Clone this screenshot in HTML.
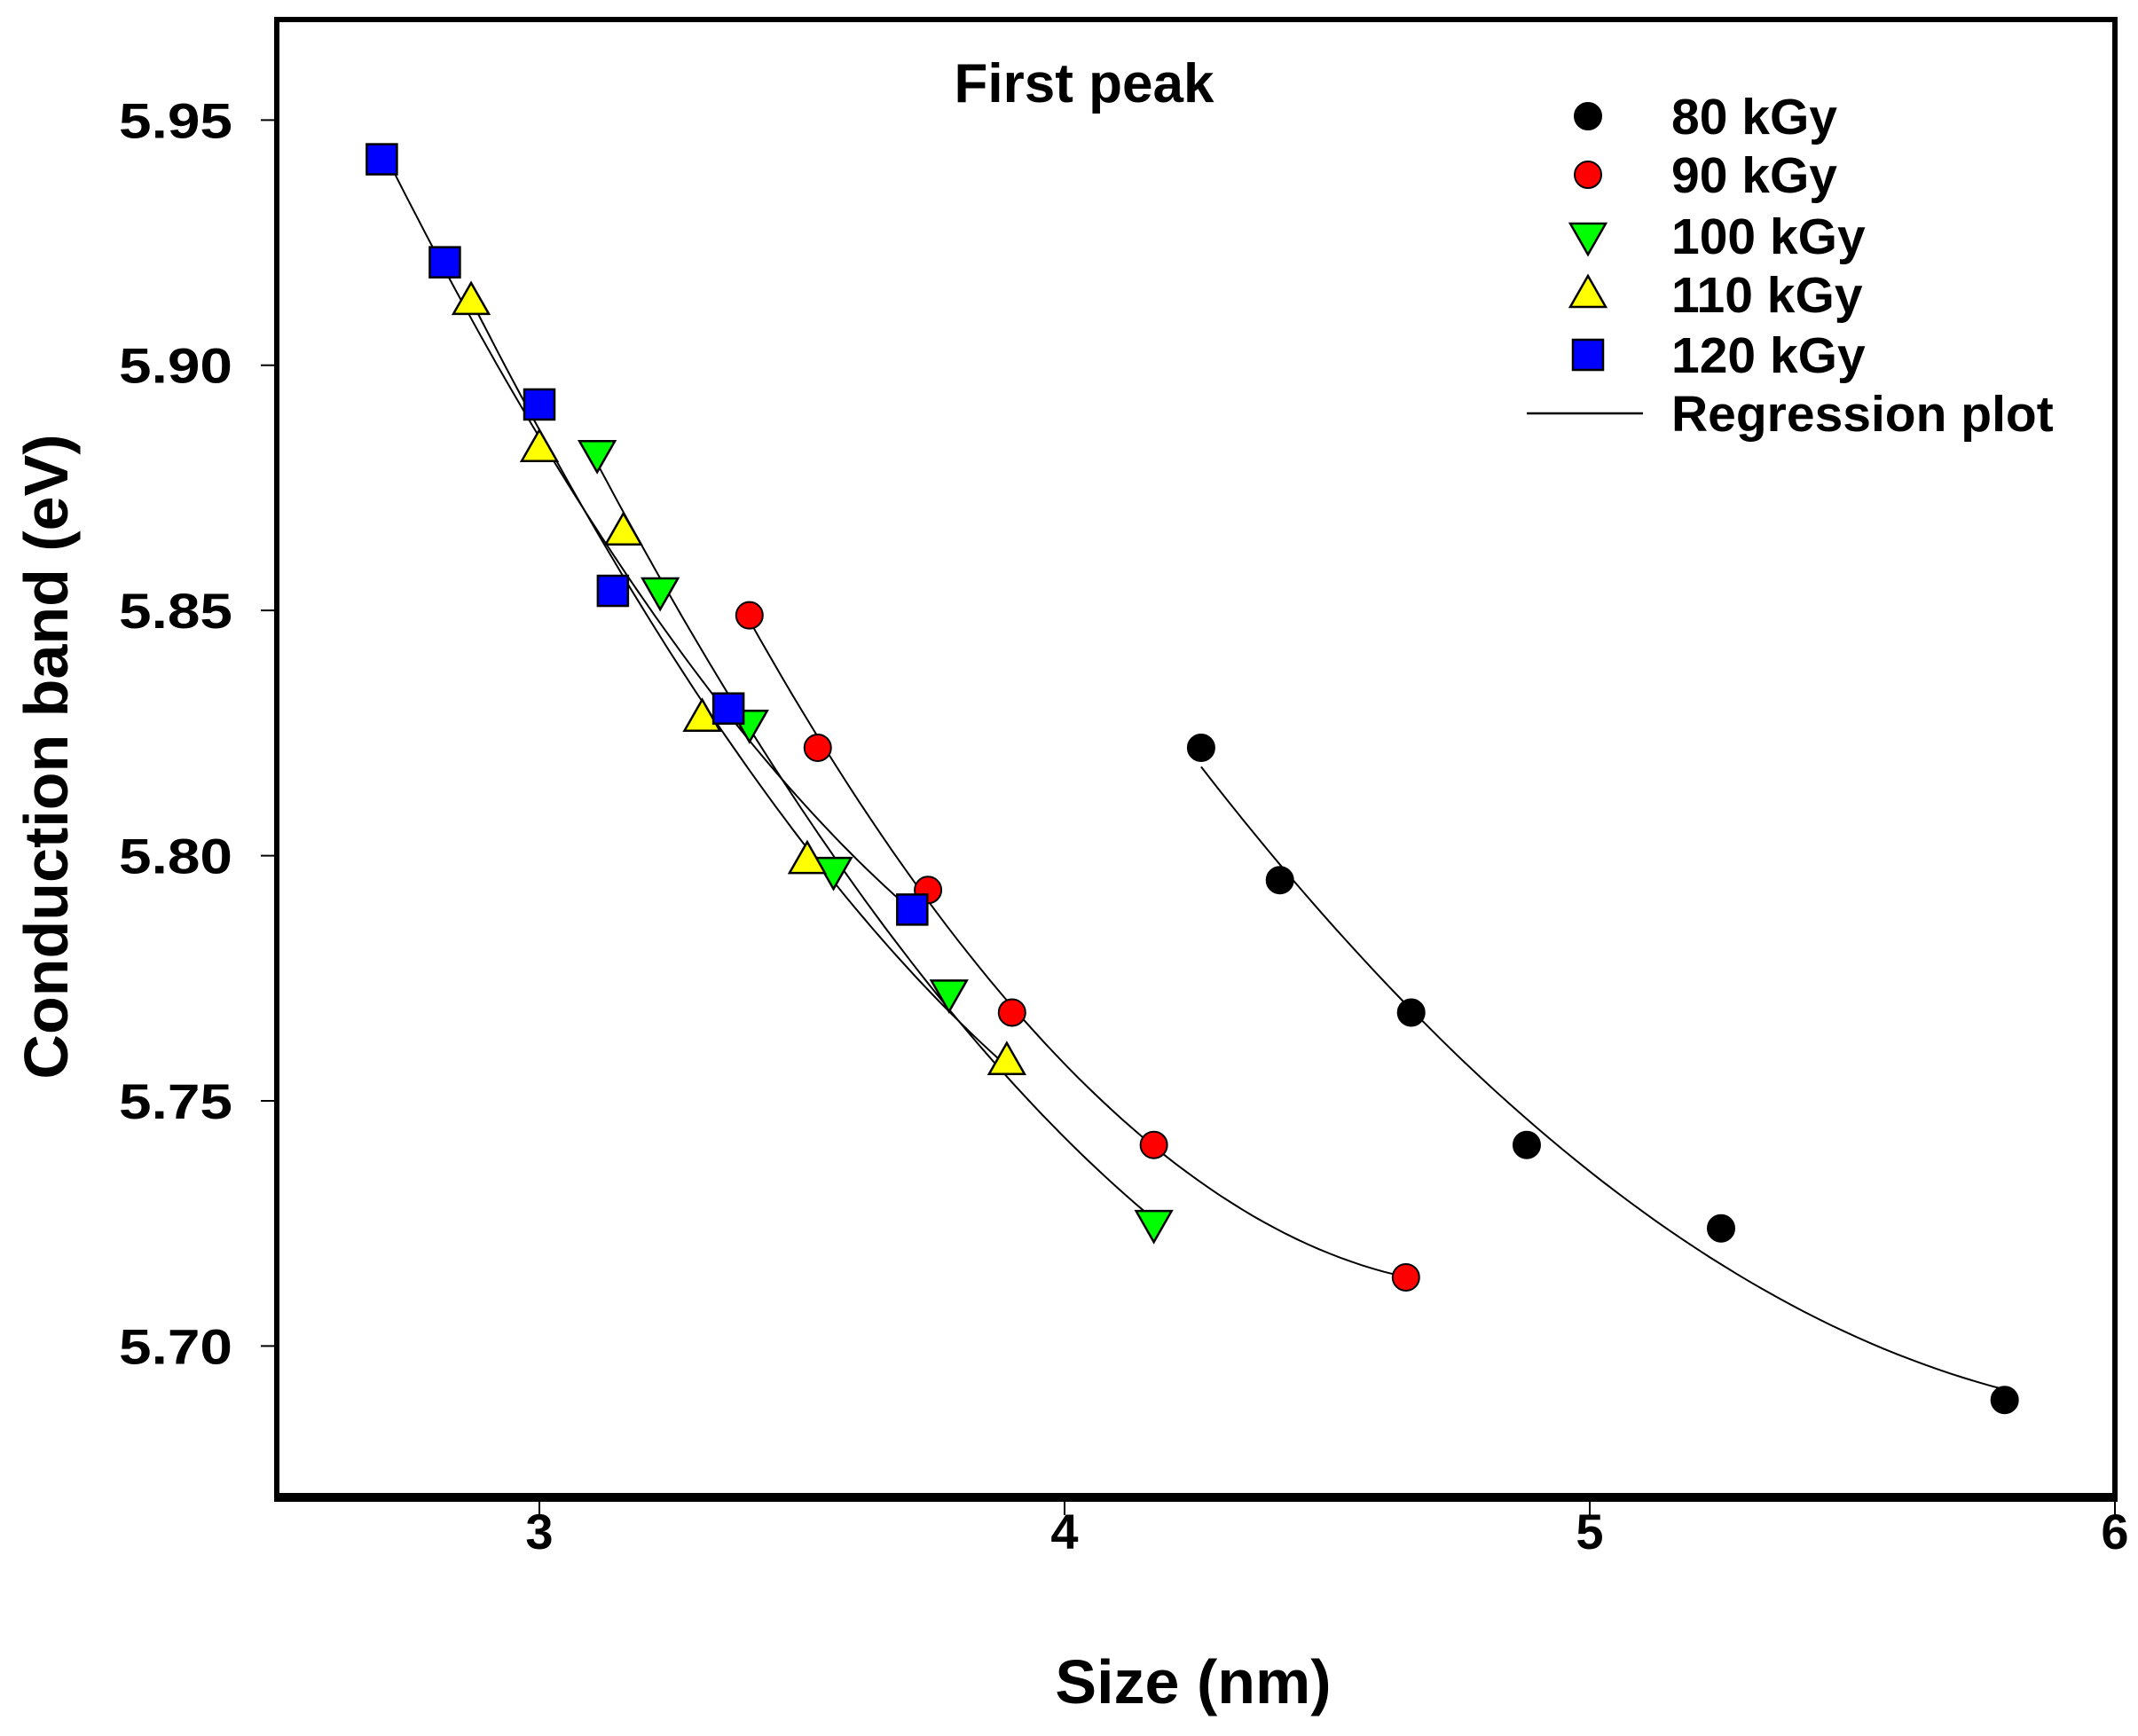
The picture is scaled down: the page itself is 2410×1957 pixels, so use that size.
<!DOCTYPE html>
<html><head><meta charset="utf-8"><style>
html,body{margin:0;padding:0;background:#fff;}
svg text{font-family:"Liberation Sans",Arial,sans-serif;font-weight:bold;fill:#000;}
</style></head><body>
<svg id="chart" width="2410" height="1952" viewBox="0 0 2410 1952" xmlns="http://www.w3.org/2000/svg">
<rect x="0" y="0" width="2410" height="1952" fill="#fff"/>
<g id="plot"></g>
</svg>
<script>
const xTicks = [3, 4, 5, 6];
const yTicks = [5.70, 5.75, 5.80, 5.85, 5.90, 5.95];
const yTickLabels = ["5.70", "5.75", "5.80", "5.85", "5.90", "5.95"];
const seriesNames = ["80 kGy", "90 kGy", "100 kGy", "110 kGy", "120 kGy"];
const x80 = [4.26, 4.41, 4.66, 4.88, 5.25, 5.79];
const y80 = [5.822, 5.795, 5.768, 5.741, 5.724, 5.689];
const x90 = [3.40, 3.53, 3.74, 3.90, 4.17, 4.65];
const y90 = [5.849, 5.822, 5.793, 5.768, 5.741, 5.714];
const x100 = [3.11, 3.23, 3.40, 3.56, 3.78, 4.17];
const y100 = [5.882, 5.854, 5.827, 5.797, 5.772, 5.725];
const x110 = [2.87, 3.00, 3.16, 3.31, 3.51, 3.89];
const y110 = [5.913, 5.883, 5.866, 5.828, 5.799, 5.758];
const x120 = [2.70, 2.82, 3.00, 3.14, 3.36, 3.71];
const y120 = [5.942, 5.921, 5.892, 5.854, 5.830, 5.789];

const NS = "http://www.w3.org/2000/svg";
const L = 312, R = 2384, T = 22, B = 1686;
const X0 = 2.5, X1 = 6.0, Y0 = 5.6695, Y1 = 5.9705;
function sx(v){ return L + (v - X0) / (X1 - X0) * (R - L); }
function sy(v){ return B - (v - Y0) / (Y1 - Y0) * (B - T); }
const g = document.getElementById('plot');
function mk(tag, attrs, parent){
  const e = document.createElementNS(NS, tag);
  for (const k in attrs) e.setAttribute(k, attrs[k]);
  (parent || g).appendChild(e);
  return e;
}

let fr = mk('rect', {x:L, y:T, width:R-L, height:B-T, fill:'none', stroke:'#000', 'stroke-width':6});


let bl = mk('line', {x1:L-3, y1:B+4, x2:R+3, y2:B+4, stroke:'#000', 'stroke-width':6});



xTicks.forEach(function(t){
  const x = sx(t);
  const tk = mk('line', {x1:x, y1:B+6, x2:x, y2:B+22, stroke:'#000', 'stroke-width':2});
  
  
  const tx = mk('text', {x:x, y:B+60, 'text-anchor':'middle', 'font-size':56});
  tx.textContent = String(t);
  
  
});
yTicks.forEach(function(t, i){
  const y = sy(t);
  const tk = mk('line', {x1:L-18, y1:y, x2:L, y2:y, stroke:'#000', 'stroke-width':2});
  
  
  const tx = mk('text', {x:L-50, y:y+20, 'text-anchor':'end', 'font-size':56, textLength:128, lengthAdjust:'spacingAndGlyphs'});
  tx.textContent = yTickLabels[i];
  
  
});

let xt = mk('text', {x:1345, y:1920, 'text-anchor':'middle', 'font-size':70});
xt.textContent = 'Size (nm)';


let yt = mk('text', {x:0, y:0, 'text-anchor':'middle', 'font-size':70, transform:'translate(76,853) rotate(-90)'});
yt.textContent = 'Conduction band (eV)';


let ct = mk('text', {x:1222, y:115, 'text-anchor':'middle', 'font-size':62});
ct.textContent = 'First peak';



function fit(xs, ys){
  let n=xs.length, s=[0,0,0,0,0], t=[0,0,0];
  for (let i=0;i<n;i++){ let p=1; for(let k=0;k<5;k++){ s[k]+=p; if(k<3) t[k]+=p*ys[i]; p*=xs[i]; } }
  const A=[[s[0],s[1],s[2],t[0]],[s[1],s[2],s[3],t[1]],[s[2],s[3],s[4],t[2]]];
  for (let i=0;i<3;i++){ for(let j=i+1;j<3;j++){ const f=A[j][i]/A[i][i]; for(let k=i;k<4;k++) A[j][k]-=f*A[i][k]; } }
  const c=[0,0,0];
  for (let i=2;i>=0;i--){ let v=A[i][3]; for(let k=i+1;k<3;k++) v-=A[i][k]*c[k]; c[i]=v/A[i][i]; }
  return c;
}
const seriesX = [x80, x90, x100, x110, x120];
const seriesY = [y80, y90, y100, y110, y120];
const colors = ['#000000', '#ff0000', '#00ff00', '#ffff00', '#0000ff'];
const shapes = ['circle', 'circle', 'down', 'up', 'square'];

function marker(shape, color, x, y, parent){
  let e;
  if (shape === 'circle') e = mk('circle', {cx:x, cy:y, r:15, fill:color, stroke:'#000', 'stroke-width':2}, parent);
  else if (shape === 'square') e = mk('rect', {x:x-17, y:y-17, width:34, height:34, fill:color, stroke:'#000', 'stroke-width':2.5}, parent);
  else if (shape === 'up') e = mk('polygon', {points:(x)+','+(y-21)+' '+(x+20)+','+(y+14)+' '+(x-20)+','+(y+14), fill:color, stroke:'#000', 'stroke-width':2.5}, parent);
  else e = mk('polygon', {points:(x)+','+(y+21)+' '+(x+20)+','+(y-14)+' '+(x-20)+','+(y-14), fill:color, stroke:'#000', 'stroke-width':2.5}, parent);
  return e;
}

seriesX.forEach(function(xs, si){
  const ys = seriesY[si];
  const c = fit(xs, ys);
  const xmin = Math.min.apply(null, xs), xmax = Math.max.apply(null, xs);
  let d = '';
  for (let k=0;k<=60;k++){ const xv = xmin + (xmax-xmin)*k/60; const yv = c[0]+c[1]*xv+c[2]*xv*xv; d += (k?'L':'M') + sx(xv).toFixed(1) + ',' + sy(yv).toFixed(1); }
  const p = mk('path', {d:d, fill:'none', stroke:'#000', 'stroke-width':2});
  
  
});
seriesX.forEach(function(xs, si){
  const ys = seriesY[si];
  xs.forEach(function(xv, i){
    const m = marker(shapes[si], colors[si], sx(xv), sy(ys[i]));
    
    
  });
});

const lg = mk('g', {});


const rowY = [131, 197, 266, 332, 400, 466];
seriesNames.forEach(function(nm, i){
  const m = marker(shapes[i], colors[i], 1790, rowY[i], lg);
  
  
  const t = mk('text', {x:1884, y:rowY[i]+20, 'font-size':57}, lg);
  t.textContent = nm;
  
  
});
const ll = mk('line', {x1:1721, y1:rowY[5], x2:1852, y2:rowY[5], stroke:'#000', 'stroke-width':2.5}, lg);


const lt = mk('text', {x:1884, y:rowY[5]+20, 'font-size':57}, lg);
lt.textContent = 'Regression plot';


</script>
</body></html>
